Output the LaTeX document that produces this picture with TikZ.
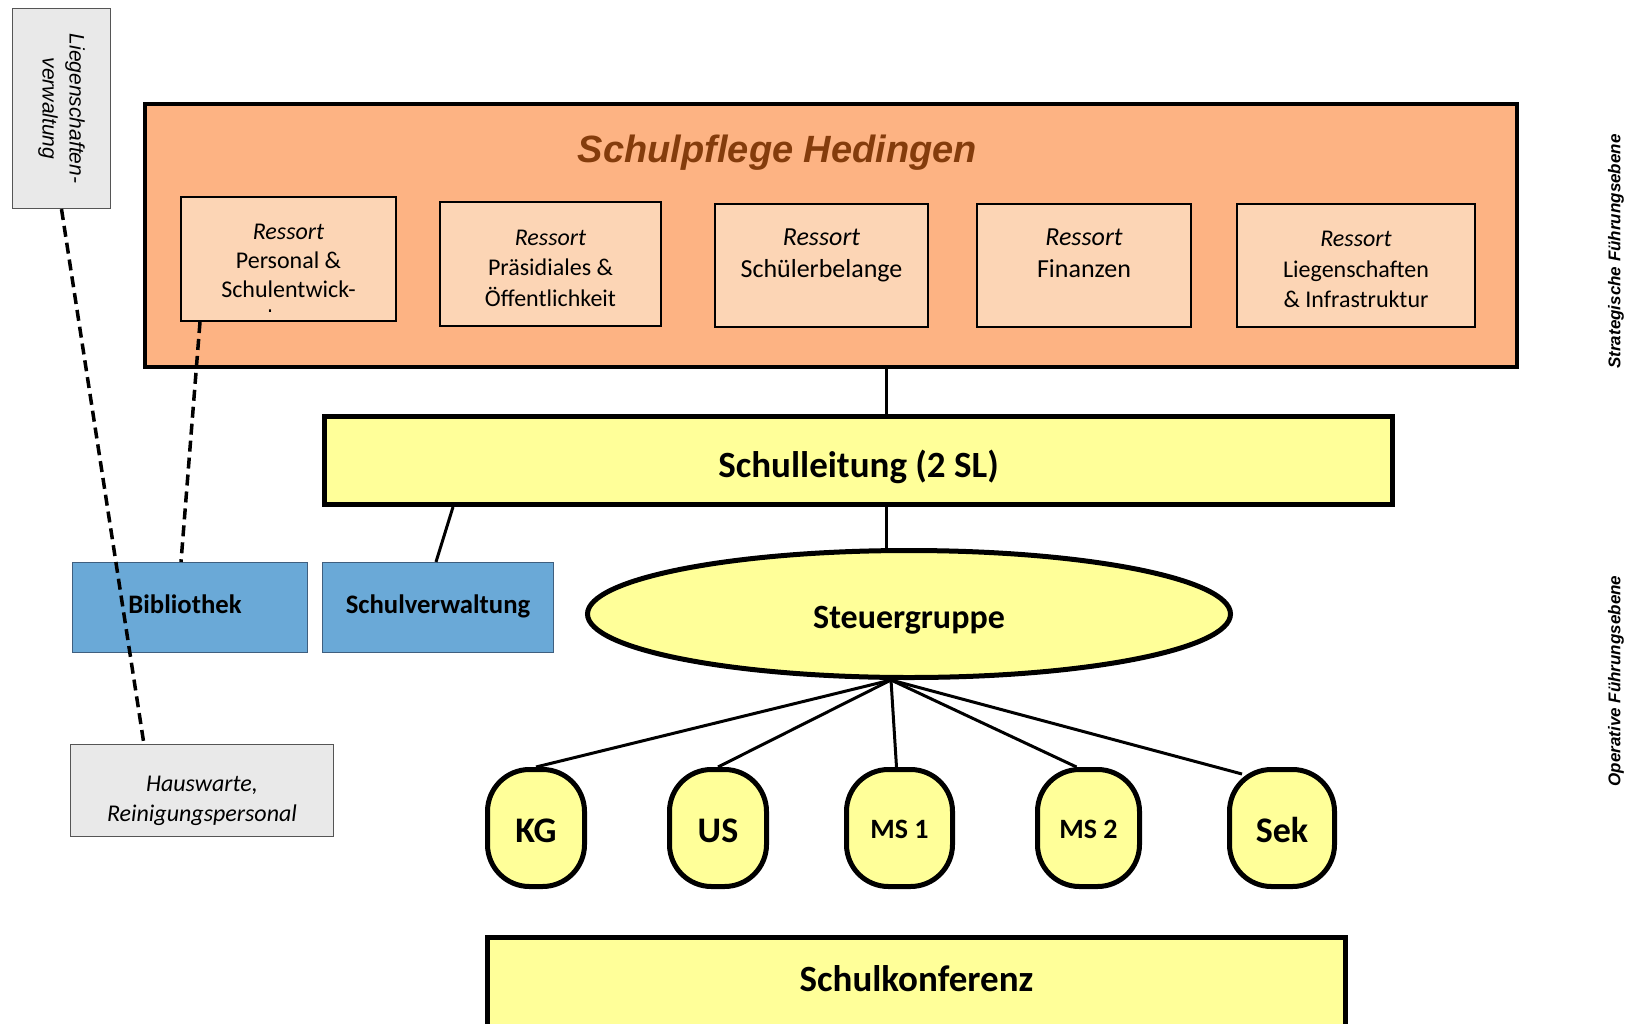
\documentclass[tikz,border=0pt]{standalone}
\usepackage{fontspec}
\setmainfont{Carlito}
\newfontfamily\arialfont{Liberation Sans}
\usetikzlibrary{shapes.geometric}

\definecolor{pflegefill}{HTML}{FDB383}
\definecolor{ressortfill}{HTML}{FCD5B5}
\definecolor{gelb}{HTML}{FFFF99}
\definecolor{blau}{HTML}{6AA9D7}
\definecolor{blaurand}{HTML}{3F5F7F}
\definecolor{grau}{HTML}{E9E9E9}
\definecolor{graurand}{HTML}{555555}
\definecolor{titelbraun}{HTML}{843C0C}

\begin{document}
\begin{tikzpicture}[x=1pt, y=-1pt,
    pflege/.style={draw, line width=4pt, fill=pflegefill, inner sep=0pt},
    ressort/.style={draw, line width=2pt, fill=ressortfill, align=center, inner sep=0pt, font=\fontsize{24}{30.5}\selectfont},
    leitung/.style={draw, line width=5pt, fill=gelb, inner sep=0pt, font=\bfseries\fontsize{37}{44}\selectfont},
    stufe/.style={draw, line width=5pt, fill=gelb, rounded corners=42pt, inner sep=0pt, minimum height=117pt, text height=28pt, text depth=0pt, font=\bfseries\fontsize{36}{40}\selectfont},
    dienst/.style={draw=blaurand, line width=1.2pt, fill=blau, inner sep=0pt, minimum height=90pt, text height=12pt, text depth=0pt, font=\bfseries\fontsize{26.7}{32}\selectfont},
    extern/.style={draw=graurand, line width=1.2pt, fill=grau, align=center, inner sep=0pt},
    linie/.style={line width=3pt},
    strich/.style={line width=3.5pt, dash pattern=on 11pt off 6pt},
    ebene/.style={rotate=90, font=\arialfont\bfseries\itshape\fontsize{17}{20}\selectfont}
  ]
  \clip (0,0) rectangle (1630,1023);

  % Schulpflege
  \node[pflege, minimum width=1372pt, minimum height=263pt] (sp) at (831,235.5) {};
  \node[font=\arialfont\bfseries\itshape\fontsize{38}{44}\selectfont, text=titelbraun, anchor=base] (titel) at (777.5,162) {Schulpflege Hedingen};

  \node[ressort, minimum width=215pt, minimum height=124pt] (r1) at (288.5,259) {};
  \begin{scope}
    \clip (182,198) rectangle (395,311);
    \node[anchor=north, align=center, inner sep=0pt, font=\fontsize{24}{29}\selectfont] (r1txt) at (288.5,224) {\textit{Ressort}\\Personal \&\\Schulentwick-\\lung};
  \end{scope}
  \node[ressort, minimum width=221pt, minimum height=124pt] (r2) at (550.5,264) {\rule{0pt}{24pt}\textit{Ressort}\\Präsidiales \&\\Öffentlichkeit};
  \node[ressort, minimum width=213pt, minimum height=123pt, text depth=25pt, font=\fontsize{26}{32}\selectfont] (r3) at (821.5,265.5) {\textit{Ressort}\\Schülerbelange};
  \node[ressort, minimum width=214pt, minimum height=123pt, text depth=25pt, font=\fontsize{26}{32}\selectfont] (r4) at (1084,265.5) {\textit{Ressort}\\Finanzen};
  \node[ressort, minimum width=238pt, minimum height=123pt] (r5) at (1356,265.5) {\rule{0pt}{24pt}\textit{Ressort}\\Liegenschaften\\\& Infrastruktur};

  % operative Ebene
  \node[leitung, minimum width=1068pt, minimum height=88pt, text height=33pt, text depth=0pt] (sl) at (858.5,460.5) {Schulleitung (2 SL)};
  \node[ellipse, draw, line width=5pt, fill=gelb, minimum width=643pt, minimum height=127pt, inner sep=0pt, text height=28pt, text depth=0pt, font=\bfseries\fontsize{34}{40}\selectfont] (sg) at (909,614) {Steuergruppe};

  \node[dienst, minimum width=235pt] (bib) at (190,607.5) {\hspace*{-10pt}Bibliothek};
  \node[dienst, minimum width=231pt] (sv) at (438,607.5) {Schulverwaltung};

  \node[extern, minimum width=263pt, minimum height=92pt, font=\itshape\fontsize{24}{30}\selectfont] (hw) at (202,790.5) {\rule{0pt}{37pt}Hauswarte,\\Reinigungspersonal};
  \node[extern, rotate=-90, minimum width=200pt, minimum height=98pt, font=\arialfont\itshape\fontsize{21}{27}\selectfont] (lv) at (61.5,108.5) {Liegenschaften-\\verwaltung};

  \node[stufe, minimum width=97pt] (kg) at (536,828) {KG};
  \node[stufe, minimum width=97pt] (us) at (718,828) {US};
  \node[stufe, minimum width=106pt, text height=20pt, font=\bfseries\fontsize{28}{32}\selectfont] (ms1) at (899.5,828) {MS 1};
  \node[stufe, minimum width=102pt, text height=20pt, font=\bfseries\fontsize{28}{32}\selectfont] (ms2) at (1088.5,828) {MS 2};
  \node[stufe, minimum width=105pt] (sek) at (1282,828) {Sek};

  \node[leitung, minimum width=858pt, minimum height=105pt, text height=2pt, text depth=0pt] (sk) at (916.5,990) {Schulkonferenz};

  \node[ebene] (strat) at (1616,251.5) {Strategische Führungsebene};
  \node[ebene] (oper) at (1616,681) {Operative Führungsebene};

  % Verbindungen
  \draw[linie] ([xshift=27.5pt]sl.north) -- ([xshift=27.5pt]sl.north |- sp.south);
  \draw[linie] ([xshift=27.5pt]sl.south) -- ([xshift=27.5pt]sl.south |- sg.north);
  \draw[linie] ([xshift=131pt]sl.south west) -- ([xshift=-2pt]sv.north);
  \draw[strich] ([xshift=20pt]r1.south west) -- ([xshift=-9pt]bib.north);
  \draw[strich] (lv.east) -- ([xshift=74pt]hw.north west);

  \draw[linie] ([xshift=-18pt]sg.south) -- (kg.north);
  \draw[linie] ([xshift=-18pt]sg.south) -- (us.north);
  \draw[linie] ([xshift=-18pt]sg.south) -- ([xshift=-3pt]ms1.north);
  \draw[linie] ([xshift=-18pt]sg.south) -- ([xshift=-12pt]ms2.north);
  \draw[linie] ([xshift=-18pt]sg.south) -- ([xshift=15pt,yshift=-7pt]sek.north west);
\end{tikzpicture}
\end{document}
